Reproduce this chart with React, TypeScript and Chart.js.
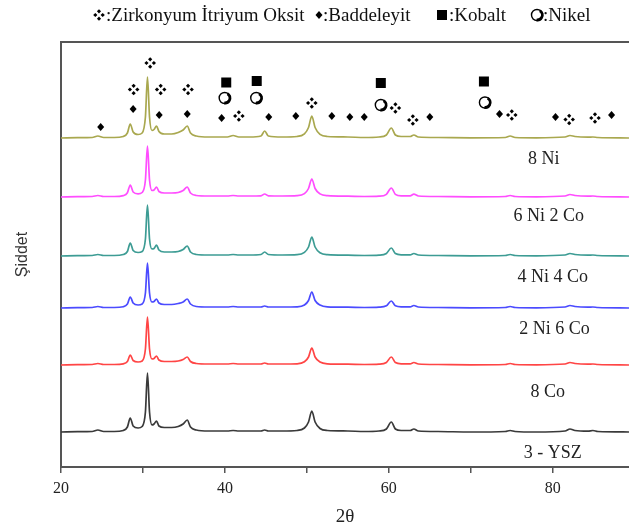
import { useEffect, useRef } from 'react';
import { Chart, registerables } from 'chart.js';
Chart.register(...registerables);

// 2θ sampling positions (shared by all patterns)
const TWO_THETA = [20, 22, 23.8, 24.5, 25.2, 26.5, 27.6, 28.1, 28.45, 28.8, 29.4, 29.9, 30.3, 30.55, 30.8, 31.1, 31.35, 31.65, 31.95, 32.6, 33.5, 34.3, 34.9, 35.4, 35.8, 36.5, 38, 40.3, 41, 41.7, 43, 44.4, 44.85, 45.3, 47, 48.8, 49.7, 50.2, 50.6, 51.0, 51.6, 52.5, 55, 57, 58.8, 59.7, 60.3, 60.8, 61.5, 62.6, 63.05, 63.6, 66, 70, 74.2, 74.8, 75.4, 78, 81.5, 82.1, 82.7, 84.3, 84.9, 85.5, 89.3];

// intensities (a.u.) of each pattern
const I_YSZ = [0, 0.3, 0.5, 2, 0.5, 0.5, 1.5, 5, 14, 6, 4, 5.5, 20, 59, 20, 7, 8, 11, 6, 4.5, 4.5, 5.5, 8, 12, 5, 2, 1, 1, 1.5, 1, 1, 1, 2, 1, 1, 1.5, 4, 10, 21, 10, 3.5, 1.5, 1, 0.5, 1, 3, 10, 3, 1.5, 1.5, 3, 1, 0.5, 0, 0.5, 1.5, 0.5, 0, 1, 3, 1.5, 0.8, 1.5, 0.5, 0];
const I_8CO = [0, 0.3, 0.5, 1.5, 0.5, 0.5, 1.2, 3.5, 10, 4.5, 3, 4, 16, 48, 16, 6, 6.5, 9, 5, 3.5, 3.5, 4, 5.5, 8, 3.5, 1.5, 1, 1, 1.5, 1, 1, 1, 2, 1, 1, 1.2, 3.2, 8, 17, 8, 3, 1.2, 0.8, 0.5, 0.8, 2.5, 8, 2.5, 1.2, 1.2, 2.5, 1, 0.5, 0.2, 0.5, 1.5, 0.5, 0.2, 1, 2.5, 1.5, 0.8, 1, 0.5, 0];
const I_2NI6CO = [0, 0.3, 0.5, 1.5, 0.5, 0.5, 1.3, 4, 11, 5, 3, 4, 15, 45, 15, 6, 6.5, 9, 5, 3.5, 3.5, 4.5, 6, 9, 4, 1.5, 1, 1, 1.5, 1, 1, 1, 2, 1, 1, 1.2, 3, 7.5, 16, 7.5, 3, 1.2, 0.8, 0.5, 0.8, 2.2, 7, 2.2, 1.2, 1.2, 2.5, 1, 0.5, 0.2, 0.5, 1.5, 0.5, 0.2, 1, 2.5, 1.5, 0.8, 1, 0.5, 0];
const I_4NI4CO = [0, 0.3, 0.5, 1.5, 0.5, 0.5, 1.5, 4.5, 13, 5.5, 3.5, 4.5, 17, 51, 17, 7, 7.5, 11, 6, 4, 4, 4.5, 6.5, 10, 4, 1.5, 1, 1, 1.5, 1, 1, 1.5, 4, 1.5, 1, 1.3, 3.6, 9, 19, 9, 3.2, 1.3, 0.8, 0.5, 0.8, 2.5, 8, 2.5, 1.2, 1.2, 2.5, 1, 0.5, 0.2, 0.5, 1.5, 0.5, 0.2, 1, 2.5, 1.5, 0.8, 1, 0.5, 0];
const I_6NI2CO = [0, 0.3, 0.5, 1.5, 0.5, 0.5, 1.4, 4.2, 12, 5, 3.2, 4.5, 17, 51, 17, 6.5, 7, 10, 5.5, 4, 4, 4.5, 6.5, 10, 4, 1.5, 1, 1, 1.5, 1, 1, 1.2, 3, 1.2, 1, 1.3, 3.4, 8.5, 18, 8.5, 3.1, 1.3, 0.8, 0.5, 0.8, 2.7, 9, 2.7, 1.2, 1.2, 2.8, 1, 0.5, 0.2, 0.5, 1.5, 0.5, 0.2, 1, 2.5, 1.5, 0.8, 1, 0.5, 0];
const I_8NI = [0, 0.3, 0.5, 2, 0.5, 0.5, 1.5, 5, 14, 6, 3.5, 5, 21, 61, 21, 7.5, 8.5, 12, 6.5, 4, 4, 5.5, 8, 12, 5, 2, 1, 1, 2.5, 1, 1, 2, 7, 2, 1, 1.5, 4.2, 10.5, 22, 10.5, 3.7, 1.5, 1, 0.5, 1, 3, 10, 3, 1.5, 1.5, 3, 1, 0.5, 0.2, 0.5, 2, 0.5, 0.2, 1, 2.5, 1.5, 0.8, 1, 0.5, 0];

const SERIES_VALUES = [I_YSZ, I_8CO, I_2NI6CO, I_4NI4CO, I_6NI2CO, I_8NI];
const SERIES_NAMES = ['3 - YSZ', '8 Co', '2 Ni 6 Co', '4 Ni 4 Co', '6 Ni 2 Co', '8 Ni'];
const SERIES_OFFSETS = [35, 102, 159, 211, 270, 329];
const SERIES_COLORS = ['#3a3a3a', '#ff4545', '#4b4bff', '#3d9c94', '#ff4dff', '#a9a84f'];
const LABEL_X = [80.0, 79.4, 80.2, 80.0, 79.5, 78.9];
const LABEL_Y = [14, 75, 138, 190, 251, 308];

// phase markers (2θ, height)
const ZIRCONIA_X = [30.88, 28.86, 32.16, 35.5, 41.7, 50.6, 60.8, 62.93, 75.0, 82.0, 85.15];
const ZIRCONIA_Y = [404, 377.5, 377.5, 377.5, 351, 364, 359, 347, 352, 347.5, 349];
const BADDELEYITE_X = [24.84, 28.8, 31.98, 35.4, 39.6, 45.35, 48.65, 53.04, 55.24, 57.0, 65.0, 73.5, 80.33, 87.17];
const BADDELEYITE_Y = [340, 358, 352, 353, 349, 350, 351, 351, 350, 350, 350, 353, 350, 352];
const COBALT_X = [40.16, 43.88, 59.02, 71.6];
const COBALT_Y = [384.5, 386, 384, 385.5];
const NICKEL_X = [39.97, 43.82, 59.02, 71.72];
const NICKEL_Y = [369, 369, 362, 364.5];

const LEGEND_TEXT = [':Zirkonyum İtriyum Oksit', ':Baddeleyit', ':Kobalt', ':Nikel'];

const AXIS_COLOR = '#555';
const SERIF = '"Liberation Serif", "Times New Roman", serif';

function drawZr(ctx: CanvasRenderingContext2D, cx: number, cy: number) {
  const d = 3.7;
  const r = 2.1;
  ctx.fillStyle = '#000';
  [[0, -d], [0, d], [-d, 0], [d, 0]].forEach(([dx, dy]) => {
    ctx.beginPath();
    ctx.moveTo(cx + dx, cy + dy - r);
    ctx.lineTo(cx + dx + r, cy + dy);
    ctx.lineTo(cx + dx, cy + dy + r);
    ctx.lineTo(cx + dx - r, cy + dy);
    ctx.closePath();
    ctx.fill();
  });
}
function drawDiamond(ctx: CanvasRenderingContext2D, cx: number, cy: number) {
  ctx.fillStyle = '#000';
  ctx.beginPath();
  ctx.moveTo(cx, cy - 4);
  ctx.lineTo(cx + 3.5, cy);
  ctx.lineTo(cx, cy + 4);
  ctx.lineTo(cx - 3.5, cy);
  ctx.closePath();
  ctx.fill();
}
function drawSquare(ctx: CanvasRenderingContext2D, cx: number, cy: number) {
  ctx.fillStyle = '#000';
  ctx.fillRect(cx - 5, cy - 5, 10, 10);
}
function drawNickel(ctx: CanvasRenderingContext2D, cx: number, cy: number) {
  ctx.strokeStyle = '#000';
  ctx.lineWidth = 1.4;
  ctx.beginPath();
  ctx.arc(cx, cy, 5.5, 0, Math.PI * 2);
  ctx.stroke();
  ctx.lineWidth = 2.8;
  ctx.beginPath();
  ctx.arc(cx + 0.3, cy, 5, -Math.PI / 3, Math.PI * 0.55);
  ctx.stroke();
}

const overlayPlugin = {
  id: 'overlay',
  afterDraw(chart: any) {
    const { ctx, chartArea } = chart;
    const x = chart.scales.x;
    const y = chart.scales.y;
    ctx.save();
    // top frame line
    ctx.strokeStyle = AXIS_COLOR;
    ctx.lineWidth = 2;
    ctx.beginPath();
    ctx.moveTo(chartArea.left, chartArea.top);
    ctx.lineTo(chartArea.right, chartArea.top);
    ctx.stroke();

    ZIRCONIA_X.forEach((v, i) => drawZr(ctx, x.getPixelForValue(v), y.getPixelForValue(ZIRCONIA_Y[i])));
    BADDELEYITE_X.forEach((v, i) => drawDiamond(ctx, x.getPixelForValue(v), y.getPixelForValue(BADDELEYITE_Y[i])));
    COBALT_X.forEach((v, i) => drawSquare(ctx, x.getPixelForValue(v), y.getPixelForValue(COBALT_Y[i])));
    NICKEL_X.forEach((v, i) => drawNickel(ctx, x.getPixelForValue(v), y.getPixelForValue(NICKEL_Y[i])));

    // series labels
    ctx.font = `18px ${SERIF}`;
    ctx.fillStyle = '#222';
    ctx.textAlign = 'center';
    ctx.textBaseline = 'middle';
    SERIES_NAMES.forEach((t, i) => ctx.fillText(t, x.getPixelForValue(LABEL_X[i]), y.getPixelForValue(LABEL_Y[i])));

    // legend on top
    const ly = 15;
    ctx.font = `19px ${SERIF}`;
    ctx.textAlign = 'left';
    drawZr(ctx, 99, ly);
    drawDiamond(ctx, 319, ly);
    drawSquare(ctx, 442, ly);
    drawNickel(ctx, 537, ly);
    ctx.fillStyle = '#111';
    const starts = [106, 323, 449, 543];
    LEGEND_TEXT.forEach((t, i) => ctx.fillText(t, starts[i], ly + 1));
    ctx.restore();
  },
};

export default function App() {
  const ref = useRef<HTMLCanvasElement>(null);
  useEffect(() => {
    if (!ref.current) return;
    const datasets = SERIES_VALUES.map((vals, k) => ({
      label: SERIES_NAMES[k],
      data: vals.map((v, i) => ({ x: TWO_THETA[i], y: v + SERIES_OFFSETS[k] })),
      borderColor: SERIES_COLORS[k],
      backgroundColor: SERIES_COLORS[k],
      borderWidth: 1.7,
      pointRadius: 0,
      cubicInterpolationMode: 'monotone' as const,
      fill: false,
    }));
    const chart = new Chart(ref.current, {
      type: 'line',
      data: { datasets },
      options: {
        animation: false,
        responsive: false,
        devicePixelRatio: 1,
        layout: { padding: { top: 42, right: 0, left: 0, bottom: 0 } },
        plugins: { legend: { display: false }, tooltip: { enabled: false } },
        scales: {
          x: {
            type: 'linear',
            min: 20,
            max: 89.3,
            afterFit: (s: any) => { s.height = 60; },
            ticks: {
              stepSize: 10,
              includeBounds: false,
              autoSkip: false,
              maxRotation: 0,
              padding: 6,
              color: '#222',
              font: { size: 16, family: SERIF },
              callback: (v: any) => (Number(v) % 20 === 0 ? String(v) : ''),
            },
            grid: { drawOnChartArea: false, drawTicks: true, tickLength: 6, color: AXIS_COLOR, lineWidth: 1.5 },
            border: { display: true, color: AXIS_COLOR, width: 2 },
            title: { display: true, text: '2θ', color: '#222', font: { size: 19, family: SERIF, lineHeight: 1 }, padding: { top: 0, bottom: 0 } },
          },
          y: {
            min: 0,
            max: 425,
            afterFit: (s: any) => { s.width = 61; },
            ticks: { display: false },
            grid: { display: false },
            border: { display: true, color: AXIS_COLOR, width: 2 },
            title: { display: true, text: 'Şiddet', color: '#333', font: { size: 16, family: '"Liberation Sans", Arial, sans-serif' }, padding: { top: 13, bottom: 0 } },
          },
        },
      },
      plugins: [overlayPlugin],
    });
    return () => chart.destroy();
  }, []);
  return (
    <div style={{ position: 'absolute', left: 0, top: 0, width: 629, height: 527, background: '#fff' }}>
      <canvas ref={ref} width={629} height={527} style={{ display: 'block' }} />
    </div>
  );
}
